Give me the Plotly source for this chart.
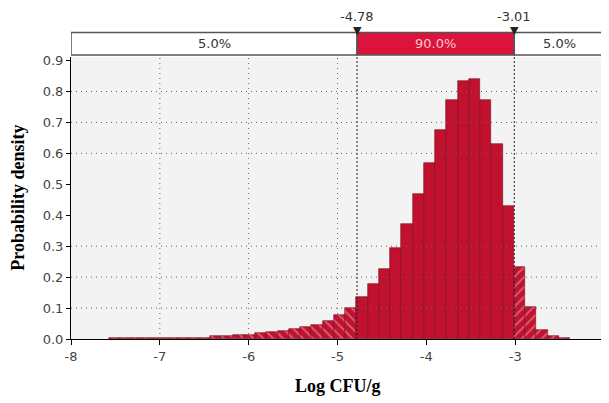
import plotly.graph_objects as go

# ---- data ----
bin_start = -7.572
bin_width = 0.1266
density = [0.003, 0.003, 0.003, 0.003, 0.003, 0.003, 0.003, 0.003, 0.003,
           0.011, 0.011, 0.012, 0.014, 0.018, 0.022, 0.027, 0.031, 0.039,
           0.046, 0.059, 0.076, 0.099,
           0.135, 0.178, 0.227, 0.294, 0.371, 0.468, 0.570, 0.677, 0.774,
           0.834, 0.839, 0.774, 0.629, 0.430,
           0.232, 0.103, 0.030, 0.011, 0.003]
lower_cut = -4.78
upper_cut = -3.01
band_pct = ["5.0%", "90.0%", "5.0%"]
x_ticks = [-8, -7, -6, -5, -4, -3, -2]
y_ticks = [0.0, 0.1, 0.2, 0.3, 0.4, 0.5, 0.6, 0.7, 0.8, 0.9]
x_grid = [-7, -6, -5, -2]
y_grid = [0.1, 0.2, 0.3, 0.6, 0.7, 0.8]
x_title = "Log CFU/g"
y_title = "Probability density"

centers = [bin_start + (i + 0.5) * bin_width for i in range(len(density))]

RED = "#c0112f"
BAND_RED = "#dc143c"

def subset(cond):
    xs, ys = [], []
    for c, d in zip(centers, density):
        if cond(c):
            xs.append(c)
            ys.append(d)
    return xs, ys

fig = go.Figure()
lx, ly = subset(lambda c: c < lower_cut)
mx, my = subset(lambda c: lower_cut <= c <= upper_cut)
rx, ry = subset(lambda c: c > upper_cut)

fig.add_trace(go.Bar(x=lx, y=ly, width=bin_width,
                     marker=dict(color=RED, line=dict(color="#7a0a1c", width=0.6),
                                 pattern=dict(shape="\\", fgcolor="#f2b8c0", bgcolor=RED,
                                              size=7, solidity=0.25))))
fig.add_trace(go.Bar(x=mx, y=my, width=bin_width,
                     marker=dict(color=RED, line=dict(color="#7a0a1c", width=0.6))))
fig.add_trace(go.Bar(x=rx, y=ry, width=bin_width,
                     marker=dict(color=RED, line=dict(color="#7a0a1c", width=0.6),
                                 pattern=dict(shape="/", fgcolor="#f2b8c0", bgcolor=RED,
                                              size=7, solidity=0.25))))

shapes = []
for gx in x_grid:
    shapes.append(dict(type="line", xref="x", yref="paper", x0=gx, x1=gx, y0=0, y1=1,
                       line=dict(color="#666666", width=1, dash="1px,4px"), layer="above"))
for gy in y_grid:
    shapes.append(dict(type="line", xref="paper", yref="y", x0=0, x1=1, y0=gy, y1=gy,
                       line=dict(color="#666666", width=1, dash="1px,4px"), layer="above"))
# cut lines
for cx in [lower_cut, upper_cut]:
    shapes.append(dict(type="line", xref="x", yref="paper", x0=cx, x1=cx, y0=0, y1=1.007,
                       line=dict(color="#222222", width=1, dash="2px,2px"), layer="above"))
# band
band_y0, band_y1 = 1.007, 1.087
segs = [(-8, lower_cut, "white"), (lower_cut, upper_cut, BAND_RED), (upper_cut, -2, "white")]
for x0, x1, col in segs:
    shapes.append(dict(type="rect", xref="x", yref="paper", x0=x0, x1=x1, y0=band_y0, y1=band_y1,
                       fillcolor=col, line=dict(color="#555555", width=1.5), layer="above"))

annotations = []
for (x0, x1, col), txt in zip(segs, band_pct):
    annotations.append(dict(x=(x0 + x1) / 2, y=(band_y0 + band_y1) / 2, xref="x", yref="paper",
                            xanchor="center", yanchor="middle",
                            text=txt, showarrow=False,
                            font=dict(family="DejaVu Sans", size=13,
                                      color="#f6c8cf" if col != "white" else "#333333")))
for cx in [lower_cut, upper_cut]:
    annotations.append(dict(x=cx, y=1.145, xref="x", yref="paper", text=f"{cx:.2f}",
                            xanchor="center", yanchor="middle", showarrow=False,
                            font=dict(family="DejaVu Sans", size=13, color="#333333")))
    # down-pointing slider triangle on the band edge
    annotations.append(dict(x=cx, y=1.093, xref="x", yref="paper", text="▼",
                            xanchor="center", yanchor="middle", showarrow=False,
                            font=dict(family="DejaVu Sans", size=11, color="#222222")))
# axis titles
annotations.append(dict(x=0.5, y=-0.165, xref="paper", yref="paper", text=f"<b>{x_title}</b>",
                        xanchor="center", yanchor="middle", showarrow=False,
                        font=dict(family="Liberation Serif", size=18, color="black")))
annotations.append(dict(x=-0.1, y=0.5, xref="paper", yref="paper", text=f"<b>{y_title}</b>",
                        xanchor="center", yanchor="middle", showarrow=False, textangle=-90,
                        font=dict(family="Liberation Serif", size=18, color="black")))

# the page body adds an 8px offset; the figure is sized/margined to compensate
fig.update_layout(
    width=601, height=395,
    margin=dict(l=63, r=5, t=49, b=64, autoexpand=False),
    paper_bgcolor="white", plot_bgcolor="#f3f3f3",
    showlegend=False, bargap=0, barmode="overlay",
    shapes=shapes, annotations=annotations,
    font=dict(family="DejaVu Sans", size=13, color="#444444"),
)
fig.update_xaxes(range=[-8, -2], tickvals=x_ticks, ticktext=[str(t) for t in x_ticks],
                 automargin=False,
                 showgrid=False, zeroline=False, showline=True, linecolor="black", linewidth=1,
                 ticks="outside", ticklen=5, tickcolor="black",
                 tickfont=dict(family="DejaVu Sans", size=13, color="#444444"))
fig.update_yaxes(range=[0, 0.9114], tickvals=y_ticks, ticktext=[f"{t:.1f}" for t in y_ticks],
                 automargin=False,
                 showgrid=False, zeroline=False, showline=True, linecolor="black", linewidth=1,
                 ticks="outside", ticklen=4, tickcolor="black",
                 tickfont=dict(family="DejaVu Sans", size=13, color="#444444"))

fig.write_html("out.html")
